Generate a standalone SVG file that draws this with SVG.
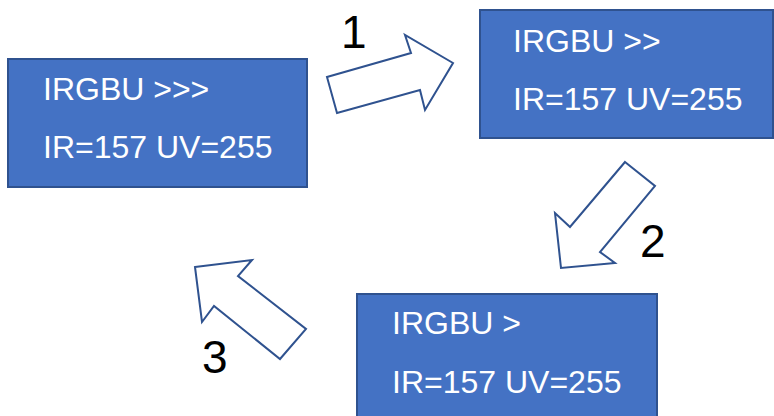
<svg xmlns="http://www.w3.org/2000/svg" width="774" height="416" viewBox="0 0 774 416">
<style>
.box{fill:#4472C4;stroke:#2F528F;stroke-width:2}
.t{font-family:"Liberation Sans",Arial,sans-serif;font-size:32px;fill:#FFFFFF}
.arr{fill:#FFFFFF;stroke:#2F528F;stroke-width:2;stroke-linejoin:miter}
.num{font-family:"Liberation Sans",Arial,sans-serif;font-size:46px;fill:#000000}
</style>
<rect width="774" height="416" fill="#FFFFFF"/>
<g id="node1">
<rect class="box" x="8" y="59" width="299" height="128"/>
<text class="t" x="43" y="100">IRGBU &gt;&gt;&gt;</text>
<text class="t" x="43" y="158">IR=157 UV=255</text>
</g>
<g id="node2">
<rect class="box" x="480" y="10" width="293" height="128"/>
<text class="t" x="513" y="52">IRGBU &gt;&gt;</text>
<text class="t" x="513" y="110">IR=157 UV=255</text>
</g>
<g id="node3">
<rect class="box" x="357" y="294" width="300" height="130"/>
<text class="t" x="392" y="334">IRGBU &gt;</text>
<text class="t" x="392" y="393">IR=157 UV=255</text>
</g>
<g id="connectors">
<g id="arrow1">
<polygon class="arr" points="337,113 327,77 411,53 405,35 453,63 425,110 420,90"/>
<text class="num" x="341" y="48">1</text>
</g>
<g id="arrow2">
<polygon class="arr" points="625,162 655,186 600,252 615,263 561,268 555,213 570,227"/>
<text class="num" x="640" y="257">2</text>
</g>
<g id="arrow3">
<polygon class="arr" points="195,267 252,260 238,276 306,329 280,359 214,306 202,322"/>
<text class="num" x="202" y="373">3</text>
</g>
</g>
</svg>
